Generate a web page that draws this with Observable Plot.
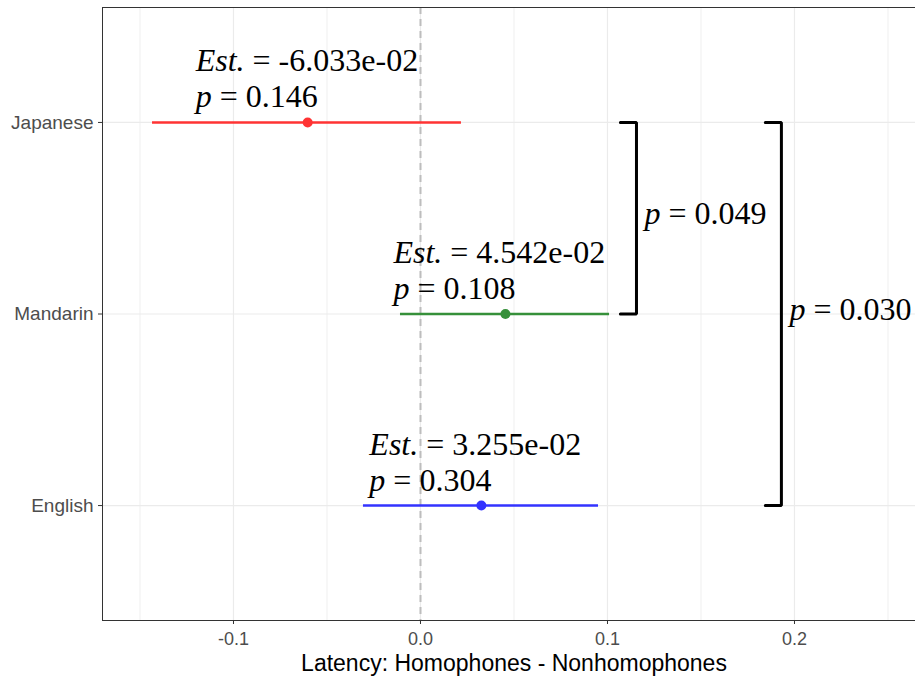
<!DOCTYPE html>
<html><head><meta charset="utf-8">
<script src="https://cdn.jsdelivr.net/npm/d3@7"></script>
<script src="https://cdn.jsdelivr.net/npm/@observablehq/plot@0.6"></script>
<style>body{margin:0;background:#fff}</style>
</head><body><div id="chart"></div>
<script>
// ---- data ----
const languages = ["Japanese", "Mandarin", "English"];
const estimates = [-0.06033, 0.04542, 0.03255];
const ciLow = [-0.1433, -0.0107, -0.0305];
const ciHigh = [0.0219, 0.1011, 0.0952];
const estLabels = ["-6.033e-02", "4.542e-02", "3.255e-02"];
const pValues = ["0.146", "0.108", "0.304"];
const bracketFrom = ["Japanese", "Japanese"];
const bracketTo = ["Mandarin", "English"];
const bracketX = [0.1155, 0.193];
const bracketP = ["0.049", "0.030"];
const xTicks = [-0.1, 0.0, 0.1, 0.2];
const xMinorTicks = [-0.15, -0.05, 0.05, 0.15, 0.25];
const xLabel = "Latency: Homophones - Nonhomophones";
const colors = ["#ff3333", "#36903a", "#3333ff"];

// ---- derived tables ----
const rows = languages.map((lang, i) => ({
  lang, idx: i, est: estimates[i], lo: ciLow[i], hi: ciHigh[i],
  estText: "Est. = " + estLabels[i], pText: "p = " + pValues[i]
}));
const bracketArm = 0.0086;
const bracketPaths = [];
const bracketLabels = [];
bracketX.forEach((bx, b) => {
  const y1 = languages.indexOf(bracketFrom[b]);
  const y2 = languages.indexOf(bracketTo[b]);
  bracketPaths.push({b, x: bx - bracketArm, y: y1}, {b, x: bx, y: y1}, {b, x: bx, y: y2}, {b, x: bx - bracketArm, y: y2});
  bracketLabels.push({x: bx, y: (y1 + y2) / 2, text: "p = " + bracketP[b]});
});

const serif = "'Liberation Serif', 'Times New Roman', serif";

const plot = Plot.plot({
  width: 915,
  height: 677,
  marginLeft: 102,
  marginRight: 0,
  marginTop: 7,
  marginBottom: 57,
  style: {fontFamily: "'Liberation Sans', Arial, sans-serif", fontSize: "18px", background: "white", overflow: "visible"},
  x: {domain: [-0.17005, 0.26471]},
  y: {domain: [2.6, -0.6]},
  color: {domain: languages, range: colors},
  marks: [
    Plot.gridX({ticks: xMinorTicks, stroke: "#ebebeb", strokeOpacity: 1, strokeWidth: 0.8}),
    Plot.gridX({ticks: xTicks, stroke: "#ebebeb", strokeOpacity: 1, strokeWidth: 1.2}),
    Plot.gridY({ticks: [0, 1, 2], stroke: "#ebebeb", strokeOpacity: 1, strokeWidth: 1.2}),
    Plot.ruleX([0], {stroke: "#bdbdbd", strokeWidth: 2, strokeDasharray: "7,5"}),
    Plot.frame({stroke: "#333333", strokeWidth: 1}),
    Plot.axisX({ticks: xTicks, tickFormat: d => d.toFixed(1), tickSize: 4, tickPadding: 8,
      stroke: "#333333", fill: "#4d4d4d", fontSize: 18, label: null}),
    Plot.axisY({ticks: [0, 1, 2], tickFormat: i => languages[i], tickSize: 4, tickPadding: 5,
      stroke: "#333333", fill: "#4d4d4d", fontSize: 19, label: null}),
    Plot.text([xLabel], {frameAnchor: "bottom", lineAnchor: "bottom", dy: 50, dx: 5, fontSize: 23, fill: "black"}),
    Plot.ruleY(rows, {y: "idx", x1: "lo", x2: "hi", stroke: "lang", strokeWidth: 2.5}),
    Plot.dot(rows, {x: "est", y: "idx", r: 5, fill: "lang", stroke: "none"}),
    Plot.text(rows, {x: "est", y: "idx", text: "estText", textAnchor: "start", lineAnchor: "bottom",
      dx: -112, dy: -51, fontSize: 32, fontFamily: serif, fill: "black"}),
    Plot.text(rows, {x: "est", y: "idx", text: "pText", textAnchor: "start", lineAnchor: "bottom",
      dx: -112, dy: -15, fontSize: 32, fontFamily: serif, fill: "black"}),
    Plot.line(bracketPaths, {x: "x", y: "y", z: "b", stroke: "black", strokeWidth: 3, strokeLinejoin: "miter"}),
    Plot.text(bracketLabels, {x: "x", y: "y", text: "text", textAnchor: "start", lineAnchor: "middle",
      dx: 8, dy: -4, fontSize: 32, fontFamily: serif, fill: "black"})
  ]
});

// italicise the leading symbol ("Est." / "p") of the math-style annotations
const svgns = "http://www.w3.org/2000/svg";
plot.querySelectorAll("text").forEach(t => {
  if (t.children.length) return;
  const s = t.textContent;
  if (!(s.startsWith("Est. = ") || s.startsWith("p = "))) return;
  const k = s.indexOf(" = ");
  t.textContent = "";
  const it = document.createElementNS(svgns, "tspan");
  it.setAttribute("font-style", "italic");
  it.textContent = s.slice(0, k);
  t.appendChild(it);
  t.appendChild(document.createTextNode(s.slice(k)));
});

document.getElementById("chart").appendChild(plot);
</script>
</body></html>
